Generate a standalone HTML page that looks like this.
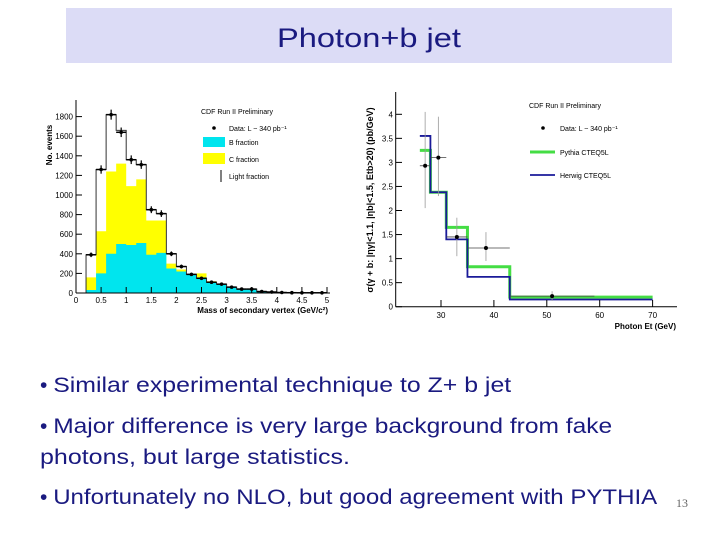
<!DOCTYPE html>
<html><head><meta charset="utf-8"><style>
html,body{margin:0;padding:0;background:#fff;}
svg{display:block;font-family:"Liberation Sans",sans-serif;}
</style></head><body>
<svg id="slide" width="720" height="540" viewBox="0 0 720 540" xmlns="http://www.w3.org/2000/svg">
<rect x="66" y="8" width="606" height="55" fill="#dcdcf6"/>
<text x="369" y="47" text-anchor="middle" font-size="27" fill="#1a1a80" textLength="184" lengthAdjust="spacingAndGlyphs">Photon+b jet</text>

<g id="left"></g>
<g id="right"></g>

<g fill="#1a1a80" font-size="21">
<text x="40" y="392">• <tspan textLength="458" lengthAdjust="spacingAndGlyphs">Similar experimental technique to Z+ b jet</tspan></text>
<text x="40" y="433">• <tspan textLength="559" lengthAdjust="spacingAndGlyphs">Major difference is very large background from fake</tspan></text>
<text x="40" y="464" textLength="310" lengthAdjust="spacingAndGlyphs">photons, but large statistics.</text>
<text x="40" y="504">• <tspan textLength="604" lengthAdjust="spacingAndGlyphs">Unfortunately no NLO, but good agreement with PYTHIA</tspan></text>
</g>
<text x="676" y="507" font-size="12" fill="#666" font-family="Liberation Serif,serif">13</text>
</svg>
<script>
const NS="http://www.w3.org/2000/svg";
function mk(p,t,a,txt){const e=document.createElementNS(NS,t);for(const k in a)e.setAttribute(k,a[k]);if(txt!==undefined)e.textContent=txt;p.appendChild(e);return e;}

// ---------- Left chart data ----------
const binEdgesL=[0.2,0.4,0.6,0.8,1.0,1.2,1.4,1.6,1.8,2.0,2.2,2.4,2.6,2.8,3.0,3.2,3.4,3.6,3.8,4.0,4.2,4.4,4.6,4.8,5.0];
const bFrac=[30,200,400,500,490,510,390,410,250,220,190,160,110,90,60,40,40,15,10,5,3,2,2,2];
const cStack=[160,630,1240,1320,1090,1160,740,740,300,240,190,200,120,95,62,42,42,16,10,5,3,2,2,2];
const totalL=[390,1260,1820,1660,1360,1310,850,810,400,270,190,150,110,90,60,40,40,15,10,5,3,2,2,2];
const dataL=[390,1260,1820,1640,1360,1310,850,810,400,270,190,150,110,90,60,40,40,15,10,5,3,2,2,2];
const yTicksL=[0,200,400,600,800,1000,1200,1400,1600,1800];
const xTicksL=[0,0.5,1,1.5,2,2.5,3,3.5,4,4.5,5];
const xL=v=>76+v*50.2, yL=v=>293-v*0.098;

const L=document.getElementById('left');
function stepPath(edges,vals,yf,xf){let d=`M${xf(edges[0])},${yf(0)}`;vals.forEach((v,i)=>{d+=`L${xf(edges[i])},${yf(v)}L${xf(edges[i+1])},${yf(v)}`;});return d+`L${xf(edges[edges.length-1])},${yf(0)}Z`;}
let p=mk(L,'path',{d:stepPath(binEdgesL,cStack,yL,xL),fill:'#ffff00'});

p=mk(L,'path',{d:stepPath(binEdgesL,bFrac,yL,xL),fill:'#00e5ee'});

p=mk(L,'path',{d:stepPath(binEdgesL,totalL,yL,xL),fill:'none',stroke:'#333','stroke-width':1});

dataL.forEach((v,i)=>{const cx=xL((binEdgesL[i]+binEdgesL[i+1])/2);
 const g=mk(L,'g',{});
 mk(g,'line',{x1:xL(binEdgesL[i]),x2:xL(binEdgesL[i+1]),y1:yL(v),y2:yL(v),stroke:'#000','stroke-width':1.5});
 const e=Math.sqrt(v)*1.2;mk(g,'line',{x1:cx,x2:cx,y1:yL(v+e),y2:yL(Math.max(0,v-e)),stroke:'#000','stroke-width':1.2});
 mk(g,'circle',{cx:cx,cy:yL(v),r:1.8,fill:'#000'});});
mk(L,'line',{x1:76,y1:100,x2:76,y2:293,stroke:'#000'});
mk(L,'line',{x1:76,y1:293,x2:330,y2:293,stroke:'#000'});
yTicksL.forEach(t=>{mk(L,'line',{x1:76,x2:82,y1:yL(t),y2:yL(t),stroke:'#000'});
 const tx=mk(L,'text',{x:73,y:yL(t)+3,'font-size':8,'text-anchor':'end'},t);});
xTicksL.forEach(t=>{mk(L,'line',{x1:xL(t),x2:xL(t),y1:293,y2:287,stroke:'#000'});
 const tx=mk(L,'text',{x:xL(t),y:303,'font-size':8,'text-anchor':'middle'},t);});
let t=mk(L,'text',{x:328,y:313,'font-size':8,'text-anchor':'end','font-weight':'bold'},'Mass of secondary vertex (GeV/c²)');
t=mk(L,'text',{transform:'translate(52,145) rotate(-90)','font-size':8,'text-anchor':'middle','font-weight':'bold'},'No. events');
t=mk(L,'text',{x:201,y:114,'font-size':7},'CDF Run II Preliminary');
const lg=mk(L,'g',{'font-size':7});
mk(lg,'circle',{cx:214,cy:128,r:1.8,fill:'#000'});mk(lg,'text',{x:229,y:131},'Data: L ~ 340 pb⁻¹');
mk(lg,'rect',{x:203,y:137,width:22,height:10,fill:'#00e5ee'});mk(lg,'text',{x:229,y:145},'B fraction');
mk(lg,'rect',{x:203,y:153,width:22,height:11,fill:'#ffff00'});mk(lg,'text',{x:229,y:162},'C fraction');
mk(lg,'line',{x1:221,x2:221,y1:170,y2:182,stroke:'#000'});mk(lg,'text',{x:229,y:179},'Light fraction');

// ---------- Right chart data ----------
const binEdgesR=[26,28,31,35,43,70];
const pythia=[3.25,2.38,1.65,0.83,0.2];
const herwig=[3.55,2.38,1.4,0.62,0.15];
const dataX=[27,29.5,33,38.5,51];
const dataY=[2.93,3.1,1.45,1.22,0.22];
const errLo=[2.05,2.3,1.05,0.95,0.12];
const errHi=[4.05,3.95,1.85,1.55,0.32];
const xErrLo=[26,28,31,35,43];
const xErrHi=[28,31,35,43,59];
const yTicksR=[0,0.5,1,1.5,2,2.5,3,3.5,4];
const xTicksR=[30,40,50,60,70];
const xR=v=>441+(v-30)*5.29, yR=v=>306.7-v*48.1;
const R=document.getElementById('right');
function openStep(edges,vals){let d='';vals.forEach((v,i)=>{d+=(i?'L':'M')+`${xR(edges[i])},${yR(v)}L${xR(edges[i+1])},${yR(v)}`;});return d;}
p=mk(R,'path',{d:openStep(binEdgesR,pythia),fill:'none',stroke:'#44dd44','stroke-width':3});

p=mk(R,'path',{d:openStep(binEdgesR,herwig),fill:'none',stroke:'#1a1a99','stroke-width':1.8});

dataX.forEach((x,i)=>{const g=mk(R,'g',{});
 mk(g,'line',{x1:xR(x),x2:xR(x),y1:yR(errHi[i]),y2:yR(errLo[i]),stroke:'#999','stroke-width':0.8});
 mk(g,'line',{x1:xR(xErrLo[i]),x2:xR(xErrHi[i]),y1:yR(dataY[i]),y2:yR(dataY[i]),stroke:'#444','stroke-width':0.8});
 mk(g,'circle',{cx:xR(x),cy:yR(dataY[i]),r:2,fill:'#000'});});
mk(R,'line',{x1:395.7,y1:92,x2:395.7,y2:306.7,stroke:'#000'});
mk(R,'line',{x1:395.7,y1:306.7,x2:677,y2:306.7,stroke:'#000'});
yTicksR.forEach(v=>{mk(R,'line',{x1:395.7,x2:402,y1:yR(v),y2:yR(v),stroke:'#000'});
 const tx=mk(R,'text',{x:393,y:yR(v)+3,'font-size':8,'text-anchor':'end'},v);});
xTicksR.forEach(v=>{mk(R,'line',{x1:xR(v),x2:xR(v),y1:306.7,y2:300,stroke:'#000'});
 const tx=mk(R,'text',{x:xR(v),y:318,'font-size':8,'text-anchor':'middle'},v);});
t=mk(R,'text',{x:676,y:329,'font-size':8,'text-anchor':'end','font-weight':'bold'},'Photon Et (GeV)');
t=mk(R,'text',{transform:'translate(373,200) rotate(-90)','font-size':9,'text-anchor':'middle','font-weight':'bold'},'σ(γ + b: |ηγ|<1.1, |ηb|<1.5, Etb>20) (pb/GeV)');
t=mk(R,'text',{x:529,y:108,'font-size':7},'CDF Run II Preliminary');
const lr=mk(R,'g',{'font-size':7});
mk(lr,'circle',{cx:543,cy:128,r:1.8,fill:'#000'});mk(lr,'text',{x:560,y:131},'Data: L ~ 340 pb⁻¹');
mk(lr,'line',{x1:530,x2:555,y1:152,y2:152,stroke:'#44dd44','stroke-width':3});mk(lr,'text',{x:560,y:155},'Pythia CTEQ5L');
mk(lr,'line',{x1:530,x2:555,y1:175,y2:175,stroke:'#1a1a99','stroke-width':1.8});mk(lr,'text',{x:560,y:178},'Herwig CTEQ5L');
</script>
</body></html>
